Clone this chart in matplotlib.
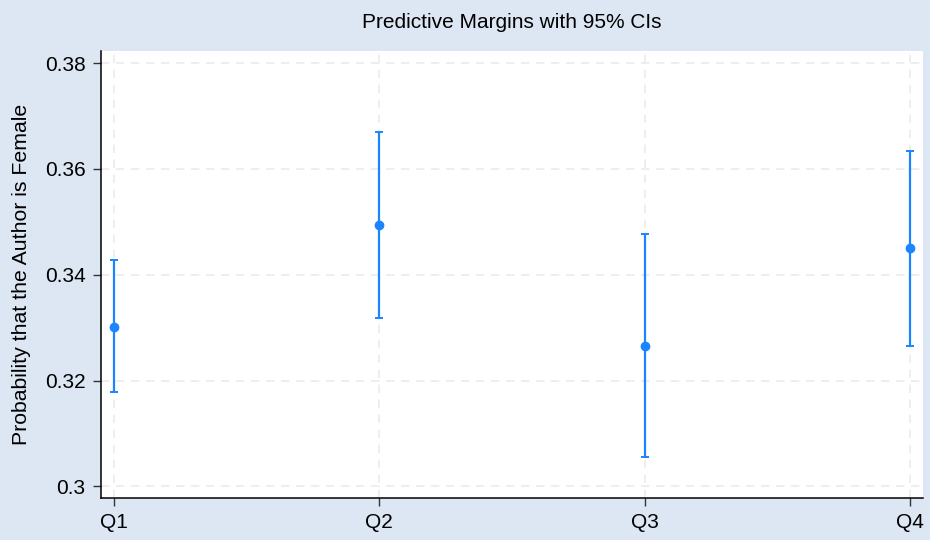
import numpy as np
import matplotlib.pyplot as plt

###
# DATA
###
quartiles = ["Q1", "Q2", "Q3", "Q4"]
margin = [0.3302, 0.3494, 0.3266, 0.3450]
ci_low = [0.3178, 0.3319, 0.3055, 0.3266]
ci_high = [0.3427, 0.3670, 0.3477, 0.3634]
yticks = [0.30, 0.32, 0.34, 0.36, 0.38]
ytick_labels = ["0.3", "0.32", "0.34", "0.36", "0.38"]

###
# PLOT
###
plt.rcParams['font.family'] = ['Liberation Sans', 'DejaVu Sans']

bg = "#dde7f3"
blue = "#1a85ff"

fig = plt.figure(figsize=(9.3, 5.4), dpi=100, facecolor=bg)
ax = fig.add_axes([101/930, 1 - 498/540, 822/930, 447/540])
ax.set_facecolor("white")

x = np.arange(1, len(quartiles) + 1)
m = np.array(margin)
err = [m - np.array(ci_low), np.array(ci_high) - m]
ax.errorbar(x, m, yerr=err, fmt="o", color=blue, ecolor=blue,
            markersize=6, elinewidth=1.6, capsize=3, capthick=1.4, zorder=3)

ax.set_xlim(0.951, 4.049)
ax.set_ylim(0.2978, 0.3823)
ax.set_xticks(x)
ax.set_xticklabels(quartiles)
ax.set_yticks(yticks)
ax.set_yticklabels(ytick_labels)

ax.grid(True, color="#ebebeb", linestyle=(0, (5, 4)), linewidth=1.2, zorder=0)
for side in ["top", "right"]:
    ax.spines[side].set_visible(False)
for side in ["left", "bottom"]:
    ax.spines[side].set_color("black")
    ax.spines[side].set_linewidth(1.1)

ax.tick_params(axis="both", direction="out", length=6, width=1, color="#333333",
               labelsize=15, labelcolor="black", pad=5)
ax.set_ylabel("Probability that the Author is Female", fontsize=15.3, labelpad=10)
fig.text(512/930, 1 - 22/540, "Predictive Margins with 95% CIs", ha="center", va="center",
         fontsize=15)

fig.savefig("out.png", dpi=100, facecolor=bg)
